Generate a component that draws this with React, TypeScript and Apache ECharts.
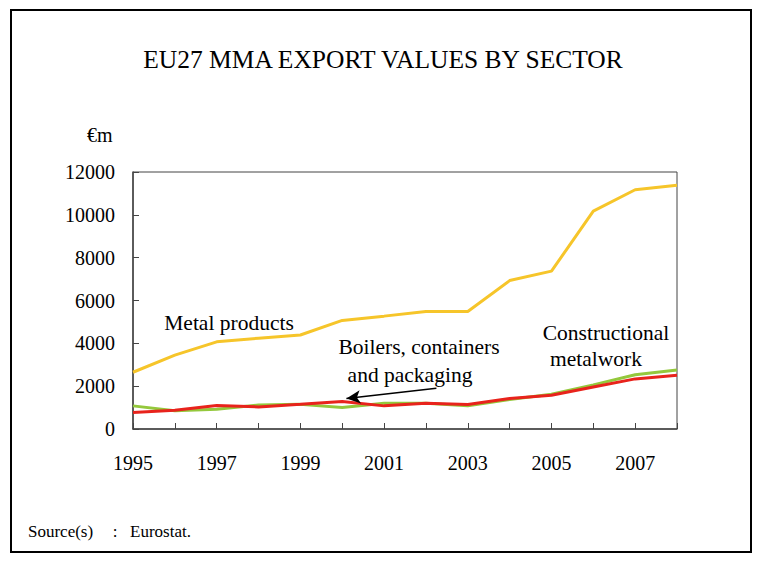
import React, { useEffect, useRef } from "react";
import * as echarts from "echarts";

const years = [1995, 1996, 1997, 1998, 1999, 2000, 2001, 2002, 2003, 2004, 2005, 2006, 2007, 2008];
const metalProducts = [2650, 3450, 4070, 4240, 4390, 5070, 5270, 5490, 5490, 6930, 7370, 10170, 11170, 11380];
const constructional = [1080, 850, 920, 1120, 1150, 1000, 1200, 1200, 1080, 1380, 1620, 2060, 2530, 2760];
const boilers = [770, 880, 1100, 1030, 1150, 1280, 1080, 1200, 1140, 1420, 1580, 1960, 2340, 2510];
const yTicks = { min: 0, max: 12000, interval: 2000 };

const serif = "'Liberation Serif', 'DejaVu Serif', serif";

export default function App() {
  const ref = useRef<HTMLDivElement>(null);
  useEffect(() => {
    if (!ref.current) return;
    const chart = echarts.init(ref.current, null, { renderer: "svg" });
    const mk = (arr: number[]) => years.map((y, i) => [y, arr[i]]);
    const txt = (x: number, y: number, text: string, size: number, align = "center") => ({
      type: "text",
      x,
      y,
      style: { text, font: `${size}px ${serif}`, fill: "#000", align, verticalAlign: "middle" },
    });
    chart.setOption({
      animation: false,
      backgroundColor: "#fff",
      grid: { left: 133, right: 83, top: 172, bottom: 143, show: true, borderColor: "#444", borderWidth: 1 },
      xAxis: {
        type: "value",
        min: 1995,
        max: 2008,
        interval: 1,
        axisLine: { show: true, lineStyle: { color: "#444", width: 1.5 } },
        axisTick: { show: true, inside: true, length: 6, lineStyle: { color: "#444" } },
        splitLine: { show: false },
        axisLabel: {
          color: "#000",
          fontFamily: serif,
          fontSize: 20,
          margin: 24,
          formatter: (v: number) => (v % 2 === 1 ? String(v) : ""),
        },
      },
      yAxis: {
        type: "value",
        min: yTicks.min,
        max: yTicks.max,
        interval: yTicks.interval,
        axisLine: { show: true, lineStyle: { color: "#444", width: 1.5 } },
        axisTick: { show: true, inside: true, length: 6, lineStyle: { color: "#444" } },
        splitLine: { show: false },
        axisLabel: {
          color: "#000",
          fontFamily: serif,
          fontSize: 20,
          margin: 18,
          formatter: (v: number) => String(v),
        },
      },
      series: [
        {
          type: "line",
          data: mk(metalProducts),
          showSymbol: false,
          lineStyle: { color: "#F6C52A", width: 3 },
        },
        {
          type: "line",
          data: mk(constructional),
          showSymbol: false,
          lineStyle: { color: "#94C83C", width: 3 },
        },
        {
          type: "line",
          data: mk(boilers),
          showSymbol: false,
          lineStyle: { color: "#E8231C", width: 3 },
          markLine: {
            silent: true,
            symbol: ["none", "arrow"],
            symbolSize: [10, 14],
            label: { show: false },
            lineStyle: { color: "#000", width: 1.5, type: "solid" },
            data: [[{ coord: [2002.25, 1900] }, { coord: [2000.1, 1420] }]],
          },
        },
      ],
      graphic: [
        {
          type: "rect",
          shape: { x: 11, y: 10, width: 740, height: 542 },
          style: { fill: "none", stroke: "#000", lineWidth: 2 },
        },
        txt(383, 59, "EU27 MMA EXPORT VALUES BY SECTOR", 25.5),
        txt(87, 135, "€m", 20, "left"),
        txt(229, 323, "Metal products", 21.5),
        txt(419, 347, "Boilers, containers", 21.5),
        txt(410, 375, "and packaging", 21.5),
        txt(606, 333, "Constructional", 21.5),
        txt(596, 359, "metalwork", 21.5),
        txt(28, 531, "Source(s)", 17, "left"),
        txt(115, 531, ":", 17),
        txt(130, 531, "Eurostat.", 17, "left"),
      ],
    });
    return () => chart.dispose();
  }, []);
  return (
    <div
      ref={ref}
      style={{ position: "fixed", left: 0, top: 0, width: 760, height: 572, background: "#fff" }}
    />
  );
}
